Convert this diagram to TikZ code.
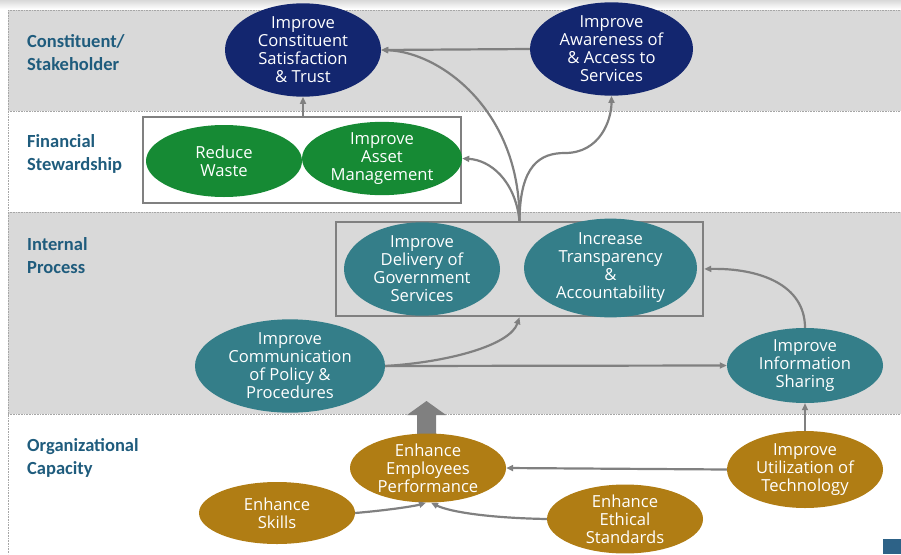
\documentclass[tikz,border=0pt]{standalone}
\usepackage{fontspec}
\setmainfont{Carlito}
\newfontfamily\goalfont{Open Sans}
\usetikzlibrary{arrows.meta,shapes.geometric,calc}
\definecolor{NavyClr}{RGB}{19,38,111}
\definecolor{GreenClr}{RGB}{22,138,52}
\definecolor{TealClr}{RGB}{52,126,137}
\definecolor{GoldClr}{RGB}{176,125,20}
\definecolor{BandClr}{RGB}{217,217,217}
\definecolor{LabelClr}{RGB}{31,92,125}
\definecolor{LinkClr}{RGB}{128,128,128}
\definecolor{MarkClr}{RGB}{45,98,135}

\begin{document}
\begin{tikzpicture}[x=1pt,y=-1pt,
  goal/.style={ellipse,inner sep=0pt,text=white,align=center,
    font=\goalfont\fontsize{16.6}{18}\selectfont},
  grpbox/.style={draw=LinkClr,line width=2.5pt,inner sep=0pt},
  link/.style={draw=LinkClr,line width=2.2pt,-{Triangle[length=7pt,width=6pt]}},
  perspective/.style={anchor=west,align=left,inner sep=0pt,text=LabelClr,
    font=\bfseries\fontsize{18.5}{23}\selectfont},
  sep/.style={draw=gray!70,densely dotted,line width=0.6pt}]
\useasboundingbox (0,0) rectangle (901,554);

% bands
\shade[top color=gray!30,bottom color=white] (0,0) rectangle (901,9);
\fill[BandClr] (8,10) rectangle (901,111);
\fill[BandClr] (8,212) rectangle (901,414);
\foreach \y in {10,111,212,414}
  \draw[sep] (8,\y) -- (901,\y);
\draw[sep] (8,10) -- (8,554);

\node[perspective] (lcst) at (27,52.5) {Constituent/\\Stakeholder};
\node[perspective] (lfin) at (27,154) {Financial\\Stewardship};
\node[perspective] (lint) at (27,255.5) {Internal\\Process};
\node[perspective] (lorg) at (27,457.5) {Organizational\\Capacity};

% group boxes
\node[grpbox,minimum width=318,minimum height=86] (finbox) at (302,160) {};
\node[grpbox,minimum width=367,minimum height=94] (intbox) at (519.5,269) {};

% block arrow
\fill[LinkClr] (417,440) -- (417,415) -- (407,415) -- (426.5,401)
  -- (446,415) -- (436,415) -- (436,440) -- cycle;

% goals
\node[goal,fill=NavyClr,minimum width=156,minimum height=78] (cst) at (303,50)
  {Improve\\Constituent\\Satisfaction\\\& Trust};
\node[goal,fill=NavyClr,minimum width=163,minimum height=72] (awr) at (611.5,49)
  {Improve\\Awareness of\\\& Access to\\Services};
\node[goal,fill=GreenClr,minimum width=156,minimum height=72] (wst) at (224,161)
  {Reduce\\Waste};
\node[goal,fill=GreenClr,minimum width=160,minimum height=73] (ast) at (382,158.5)
  {Improve\\Asset\\Management};
\node[goal,fill=TealClr,minimum width=156,minimum height=78] (dlv) at (422,269)
  {Improve\\Delivery of\\Government\\Services};
\node[goal,fill=TealClr,minimum width=173,minimum height=78] (trn) at (610.5,268)
  {Increase\\Transparency\\\&\\Accountability};
\node[goal,fill=TealClr,minimum width=190,minimum height=79] (com) at (290,366)
  {Improve\\Communication\\of Policy \&\\Procedures};
\node[goal,fill=TealClr,minimum width=156,minimum height=75] (inf) at (805,365.5)
  {Improve\\Information\\Sharing};
\node[goal,fill=GoldClr,minimum width=156,minimum height=68] (emp) at (428,468)
  {Enhance\\Employees\\Performance};
\node[goal,fill=GoldClr,minimum width=156,minimum height=62] (skl) at (277,513)
  {Enhance\\Skills};
\node[goal,fill=GoldClr,minimum width=156,minimum height=62] (eth) at (625,519)
  {Enhance\\Ethical\\Standards};
\node[goal,fill=GoldClr,minimum width=156,minimum height=77] (utl) at (805,469.5)
  {Improve\\Utilization of\\Technology};

% links
\draw[link] (finbox.north -| cst.south) -- (cst.south);
\draw[link] (awr.west) -- (cst.east);
\draw[link] (intbox.north) .. controls (520,110) and (440,52) .. (cst.east);
\draw[link] (intbox.north) .. controls (515,180) and (490,160) .. (ast.east);
\draw[link] (intbox.north) .. controls (520,165) and (540,153) .. (565,153)
  .. controls (600,153) and (611.5,120) .. (awr.south);
\draw[link] (com.east) .. controls (450,362) and (510,345) .. (intbox.south);
\draw[link] (com.east) -- (inf.west);
\draw[link] (inf.north) .. controls (805,285) and (760,268) .. (intbox.east);
\draw[link] (utl.north) -- (inf.south);
\draw[link] (utl.west) -- (emp.east);
\draw[link] (skl.east) .. controls (390,510) and (415,506) .. ($(emp.south)+(-2,0)$);
\draw[link] (eth.west) .. controls (490,518) and (450,512) .. ($(emp.south)+(3,0)$);

% corner mark
\fill[MarkClr] (883,539) rectangle (901,554);
\end{tikzpicture}
\end{document}
